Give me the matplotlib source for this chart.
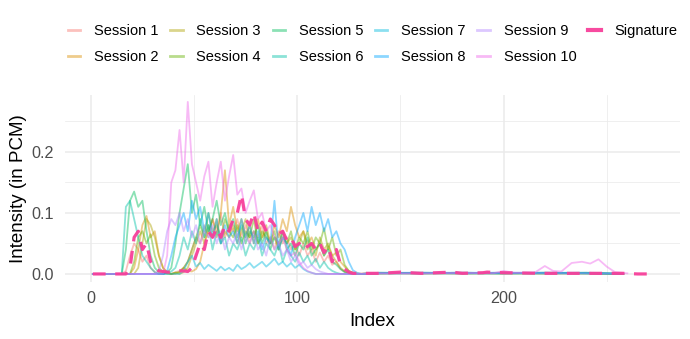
import numpy as np
import matplotlib
matplotlib.use("Agg")
import matplotlib.pyplot as plt

plt.rcParams['font.family'] = ['Liberation Sans', 'DejaVu Sans']

# ---------------- data ----------------
head_x = list(range(1, 132, 2))   # indices 1,3,...,131
tail_x = [140, 160, 180, 200, 220, 240, 258]

s1_head = [0, 0, 0, 0, 0, 0, 0, 0, 0.005, 0.03, 0.05, 0.04, 0.02, 0.03, 0.01, 0.003,
           0, 0, 0.002, 0, 0.003, 0.005, 0.01, 0.02, 0.04, 0.06, 0.05, 0.08, 0.06, 0.09,
           0.07, 0.10, 0.06, 0.08, 0.07, 0.09, 0.06, 0.08, 0.05, 0.07, 0.06, 0.08, 0.05,
           0.06, 0.04, 0.07, 0.05, 0.06, 0.04, 0.05, 0.03, 0.05, 0.03, 0.04, 0.02, 0.035,
           0.02, 0.03, 0.015, 0.02, 0.008, 0.004, 0.002, 0.001, 0, 0.001]
s2_head = [0, 0, 0, 0, 0, 0, 0, 0, 0, 0, 0.01, 0.04, 0.08, 0.095, 0.06, 0.07, 0.03,
           0.01, 0.003, 0, 0, 0.003, 0.01, 0.005, 0.004, 0.008, 0.02, 0.05, 0.07, 0.09,
           0.06, 0.10, 0.17, 0.08, 0.11, 0.07, 0.09, 0.06, 0.08, 0.05, 0.09, 0.06, 0.07,
           0.05, 0.08, 0.06, 0.09, 0.07, 0.11, 0.08, 0.06, 0.07, 0.05, 0.06, 0.04, 0.05,
           0.03, 0.045, 0.03, 0.035, 0.02, 0.012, 0.005, 0.002, 0.001, 0]
s3_head = [0, 0, 0, 0, 0, 0, 0, 0, 0, 0, 0, 0.01, 0.05, 0.09, 0.08, 0.06, 0.03, 0.01,
           0.002, 0, 0.002, 0, 0.003, 0.01, 0.03, 0.05, 0.07, 0.05, 0.08, 0.06, 0.09,
           0.05, 0.07, 0.06, 0.08, 0.05, 0.07, 0.09, 0.06, 0.07, 0.05, 0.06, 0.08, 0.05,
           0.06, 0.04, 0.07, 0.05, 0.06, 0.04, 0.05, 0.07, 0.04, 0.05, 0.03, 0.06, 0.04,
           0.05, 0.03, 0.02, 0.01, 0.004, 0.002, 0, 0, 0]
s4_head = [0, 0, 0, 0, 0, 0, 0, 0, 0, 0, 0.02, 0.06, 0.07, 0.05, 0.065, 0.03, 0.01,
           0.003, 0, 0, 0.002, 0.003, 0.01, 0.02, 0.04, 0.06, 0.08, 0.06, 0.10, 0.07,
           0.08, 0.06, 0.09, 0.07, 0.06, 0.08, 0.05, 0.07, 0.06, 0.09, 0.05, 0.07, 0.06,
           0.05, 0.07, 0.04, 0.06, 0.05, 0.07, 0.04, 0.06, 0.05, 0.07, 0.04, 0.06, 0.05,
           0.075, 0.04, 0.06, 0.03, 0.04, 0.015, 0.005, 0.002, 0, 0]
s5_head = [0, 0, 0, 0, 0, 0, 0, 0, 0.04, 0.12, 0.135, 0.11, 0.12, 0.07, 0.03, 0.01,
           0.003, 0, 0.002, 0.01, 0.05, 0.10, 0.14, 0.18, 0.10, 0.13, 0.08, 0.11, 0.07,
           0.09, 0.12, 0.08, 0.10, 0.07, 0.09, 0.06, 0.08, 0.05, 0.07, 0.06, 0.08, 0.05,
           0.07, 0.04, 0.06, 0.05, 0.07, 0.04, 0.05, 0.03, 0.05, 0.04, 0.06, 0.03, 0.04,
           0.05, 0.03, 0.04, 0.02, 0.015, 0.008, 0.003, 0.001, 0, 0, 0]
s6_head = [0, 0, 0, 0, 0, 0, 0, 0, 0.11, 0.12, 0.09, 0.06, 0.03, 0.02, 0.01, 0.003,
           0, 0, 0.002, 0.004, 0.01, 0.03, 0.06, 0.04, 0.07, 0.05, 0.09, 0.06, 0.08,
           0.04, 0.07, 0.05, 0.06, 0.03, 0.05, 0.04, 0.06, 0.03, 0.05, 0.04, 0.06, 0.03,
           0.05, 0.04, 0.03, 0.05, 0.02, 0.04, 0.03, 0.02, 0.035, 0.02, 0.03, 0.015,
           0.025, 0.01, 0.02, 0.01, 0.005, 0.002, 0, 0, 0, 0, 0, 0]
s7_head = [0, 0, 0, 0, 0, 0, 0, 0, 0, 0, 0, 0, 0, 0, 0, 0, 0, 0, 0, 0, 0, 0,
           0.005, 0.02, 0.03, 0.012, 0.018, 0.008, 0.015, 0.01, 0.005, 0.012, 0.006,
           0.01, 0.005, 0.015, 0.008, 0.012, 0.018, 0.01, 0.015, 0.02, 0.012, 0.018,
           0.025, 0.015, 0.02, 0.012, 0.018, 0.01, 0.015, 0.008, 0.004, 0.002, 0, 0,
           0, 0, 0, 0, 0, 0, 0, 0, 0, 0]
s8_head = [0, 0, 0, 0, 0, 0, 0, 0, 0, 0, 0, 0, 0, 0, 0, 0, 0, 0, 0.005, 0.03, 0.06,
           0.08, 0.10, 0.07, 0.12, 0.09, 0.11, 0.07, 0.10, 0.06, 0.09, 0.05, 0.08, 0.06,
           0.07, 0.05, 0.09, 0.06, 0.08, 0.05, 0.07, 0.04, 0.06, 0.05, 0.12, 0.04, 0.06,
           0.05, 0.03, 0.06, 0.08, 0.10, 0.07, 0.11, 0.08, 0.10, 0.07, 0.09, 0.06, 0.07,
           0.05, 0.04, 0.02, 0.006, 0.002, 0]
s9_head = [0, 0, 0, 0, 0, 0, 0, 0, 0, 0, 0, 0, 0, 0, 0, 0, 0.005, 0.03, 0.07, 0.09,
           0.08, 0.10, 0.07, 0.09, 0.06, 0.08, 0.05, 0.07, 0.06, 0.08, 0.05, 0.07, 0.04,
           0.06, 0.05, 0.07, 0.04, 0.06, 0.05, 0.07, 0.04, 0.05, 0.03, 0.06, 0.04, 0.05,
           0.03, 0.04, 0.02, 0.03, 0.015, 0.02, 0.01, 0.015, 0.008, 0.004, 0.002, 0, 0,
           0, 0, 0, 0, 0, 0, 0]
s10_head = [0, 0, 0, 0, 0, 0, 0, 0, 0, 0, 0, 0, 0, 0, 0, 0, 0, 0, 0.03, 0.15, 0.17,
            0.236, 0.15, 0.282, 0.18, 0.15, 0.12, 0.16, 0.184, 0.11, 0.15, 0.184, 0.12,
            0.16, 0.195, 0.13, 0.14, 0.10, 0.12, 0.137, 0.09, 0.10, 0.07, 0.08, 0.06,
            0.05, 0.06, 0.04, 0.03, 0.035, 0.02, 0.01, 0.005, 0.002, 0, 0, 0, 0, 0, 0,
            0, 0, 0, 0, 0, 0]

s1_tail = [0.001, 0.001, 0.002, 0.001, 0.001, 0.001, 0]
s2_tail = [0.001, 0.002, 0.001, 0.001, 0.002, 0.001, 0]
s3_tail = [0.001, 0.001, 0.001, 0.002, 0.001, 0.001, 0]
s4_tail = [0.002, 0.001, 0.001, 0.001, 0.001, 0.002, 0]
s5_tail = [0.001, 0.001, 0.002, 0.001, 0.001, 0.001, 0]
s6_tail = [0.001, 0.002, 0.001, 0.001, 0.001, 0.001, 0]
s7_tail = [0.001, 0.001, 0.001, 0.001, 0.002, 0.001, 0]
s8_tail = [0.002, 0.002, 0.002, 0.002, 0.002, 0.002, 0.001]
s9_tail = [0.001, 0.001, 0.001, 0.002, 0.001, 0.001, 0]
s10_tail_x = [140, 160, 180, 195, 200, 205, 215, 220, 224, 228, 233, 238, 242, 246, 250, 254, 260]
s10_tail = [0.001, 0.001, 0.002, 0.001, 0.005, 0.002, 0.002, 0.013, 0.005, 0.004,
            0.018, 0.02, 0.017, 0.024, 0.012, 0.003, 0.001]

sig_head = [0, 0, 0, 0, 0, 0, 0, 0, 0, 0.01, 0.06, 0.07, 0.04, 0.05, 0.02, 0.01, 0.005,
            0.004, 0.003, 0.003, 0.004, 0.005, 0.005, 0.004, 0.01, 0.03, 0.05, 0.04,
            0.07, 0.06, 0.075, 0.06, 0.08, 0.07, 0.09, 0.10, 0.13, 0.09, 0.08, 0.10,
            0.07, 0.085, 0.07, 0.09, 0.08, 0.065, 0.07, 0.055, 0.06, 0.045, 0.05, 0.04,
            0.045, 0.05, 0.04, 0.05, 0.035, 0.045, 0.02, 0.04, 0.015, 0.008, 0.003,
            0.001, 0.001, 0.001]
sig_tail_x = [140, 150, 160, 175, 180, 190, 192, 200, 220, 240, 258, 265, 272]
sig_tail = [0.001, 0.003, 0.001, 0.003, 0.001, 0.002, 0.003, 0.002, 0.001, 0.001,
            0.001, 0, 0]

session_labels = [f"Session {i}" for i in range(1, 11)]
session_colors = ['#F8766D', '#DB8E00', '#AEA200', '#64B200', '#00BD5C',
                  '#00C1A7', '#00BADE', '#00A6FF', '#B385FF', '#EF67EB']
signature_color = '#F7409A'

heads = [s1_head, s2_head, s3_head, s4_head, s5_head, s6_head, s7_head, s8_head, s9_head, s10_head]
tails = [s1_tail, s2_tail, s3_tail, s4_tail, s5_tail, s6_tail, s7_tail, s8_tail, s9_tail, s10_tail]
tails_x = [tail_x] * 9 + [s10_tail_x]

# ---------------- plot ----------------
fig = plt.figure(figsize=(6.9, 3.39), dpi=100)
ax = fig.add_axes([0.0942, 0.1667, 0.8913, 0.5543])

for lab, col, h, tx, t in zip(session_labels, session_colors, heads, tails_x, tails):
    xs = head_x + tx
    ys = h + t
    ax.plot(xs, ys, color=col, alpha=0.45, lw=1.3, label=lab, solid_joinstyle='round')

ax.plot(head_x + sig_tail_x, sig_head + sig_tail, color=signature_color, lw=2.3,
        dashes=(4, 3), label='Signature', alpha=0.95)

ax.set_xlim(-12.5, 285.5)
ax.set_ylim(-0.014, 0.294)
ax.set_xticks([0, 100, 200])
ax.set_xticks([50, 150, 250], minor=True)
ax.set_yticks([0.0, 0.1, 0.2])
ax.set_yticklabels(['0.0', '0.1', '0.2'])
ax.set_yticks([0.05, 0.15, 0.25], minor=True)
ax.grid(True, which='major', color='#EBEBEB', lw=1.1)
ax.grid(True, which='minor', color='#EBEBEB', lw=0.55)
ax.set_axisbelow(True)
for s in ax.spines.values():
    s.set_visible(False)
ax.tick_params(which='both', length=0)
ax.tick_params(axis='both', labelsize=11.6, labelcolor='#4D4D4D')
ax.tick_params(axis='y', pad=8)
ax.tick_params(axis='x', pad=6)
ax.set_xlabel('Index', fontsize=13.5, labelpad=5)
ax.set_ylabel('Intensity (in PCM)', fontsize=13.5, labelpad=3)

handles, labels = ax.get_legend_handles_labels()
leg = fig.legend(handles, labels, loc='center', bbox_to_anchor=(0.54, 0.87), ncol=6,
                 frameon=False, fontsize=10.5, handlelength=0.85, handletextpad=0.95,
                 columnspacing=0.8, labelspacing=0.85)
for lh in leg.get_lines():
    lh.set_linewidth(2.0)
    lh.set_linestyle('-')
leg.get_lines()[-1].set_linewidth(3.0)

fig.savefig('out.png', dpi=100)
